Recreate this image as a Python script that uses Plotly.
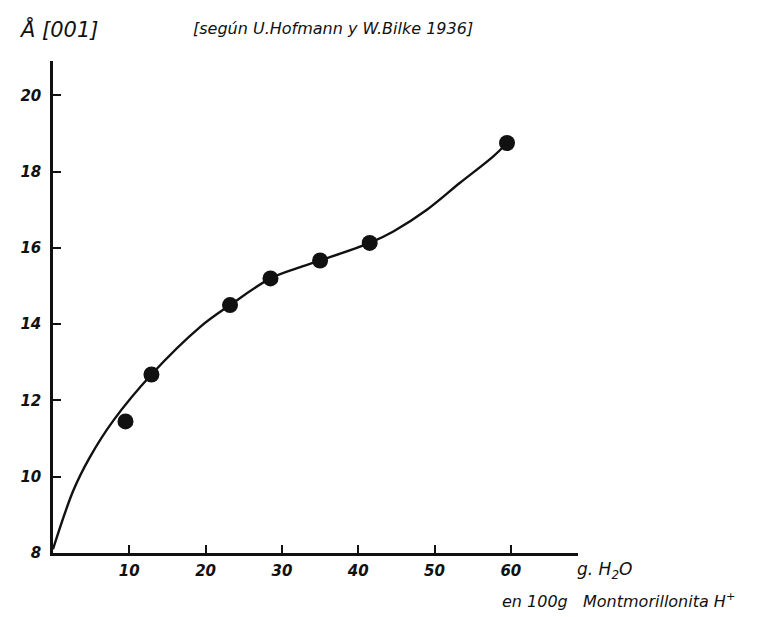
import plotly.graph_objects as go

# Measured points (g H2O per 100 g montmorillonite H+, basal spacing in Å)
water_g = [9.5, 12.9, 23.2, 28.5, 35.0, 41.5, 59.5]
spacing_A = [11.45, 12.68, 14.5, 15.2, 15.67, 16.13, 18.75]

# Hand-drawn curve
curve_x = [0, 2.65, 4.8, 7.9, 12.9, 19.3, 23.2, 28.5, 32.0, 35.0, 41.5,
           44.6, 49.0, 53.3, 57.7, 59.5]
curve_y = [8.1, 9.63, 10.5, 11.47, 12.68, 13.93, 14.5, 15.2, 15.47, 15.67, 16.13,
           16.43, 17.0, 17.7, 18.4, 18.75]

x_ticks = [10, 20, 30, 40, 50, 60]
y_ticks = [8, 10, 12, 14, 16, 18, 20]

ink = "#111111"
hand = "DejaVu Sans"

fig = go.Figure()
fig.add_trace(go.Scatter(x=curve_x, y=curve_y, mode="lines",
                         line=dict(color=ink, width=2.4, shape="spline", smoothing=1.0),
                         hoverinfo="skip", showlegend=False))
fig.add_trace(go.Scatter(x=water_g, y=spacing_A, mode="markers",
                         marker=dict(color=ink, size=16), showlegend=False))

tickfont = dict(family=hand, size=15, color=ink, style="italic", weight="bold")
fig.update_xaxes(range=[0, 68.8], tickvals=x_ticks, ticktext=[str(v) for v in x_ticks],
                 ticks="inside", ticklen=8, tickwidth=1.5, tickcolor=ink,
                 showline=True, linecolor=ink, linewidth=2.5, showgrid=False,
                 zeroline=False, tickfont=tickfont, ticklabelstandoff=2)
fig.update_yaxes(range=[8, 20.9], tickvals=y_ticks, ticktext=[str(v) for v in y_ticks],
                 ticks="inside", ticklen=8, tickwidth=1.5, tickcolor=ink,
                 showline=True, linecolor=ink, linewidth=2.5, showgrid=False,
                 zeroline=False, tickfont=tickfont, ticklabelstandoff=6)

fig.add_annotation(xref="paper", yref="paper", x=-0.068, y=1.066, xanchor="left",
                   yanchor="middle", text="Å [001]", showarrow=False,
                   font=dict(family=hand, size=21, color=ink, style="italic"))
fig.add_annotation(xref="paper", yref="paper", x=0.262, y=1.066, xanchor="left",
                   yanchor="middle", text="[según U.Hofmann y W.Bilke 1936]",
                   showarrow=False, font=dict(family=hand, size=16, color=ink, style="italic"))
fig.add_annotation(xref="paper", yref="paper", x=0.995, y=-0.035, xanchor="left",
                   yanchor="middle", text="g. H<sub>2</sub>O", showarrow=False,
                   font=dict(family=hand, size=17, color=ink, style="italic"))
fig.add_annotation(xref="paper", yref="paper", x=0.851, y=-0.096, xanchor="left",
                   yanchor="middle", text="en 100g&nbsp;&nbsp;&nbsp;Montmorillonita H<sup>+</sup>",
                   showarrow=False, font=dict(family=hand, size=16, color=ink, style="italic"))

fig.update_layout(width=767, height=617, margin=dict(l=53, r=189, t=61, b=64),
                  paper_bgcolor="white", plot_bgcolor="white", showlegend=False)

fig.write_html("out.html", config={"displayModeBar": False},
               post_script="document.body.style.margin='0px';")
